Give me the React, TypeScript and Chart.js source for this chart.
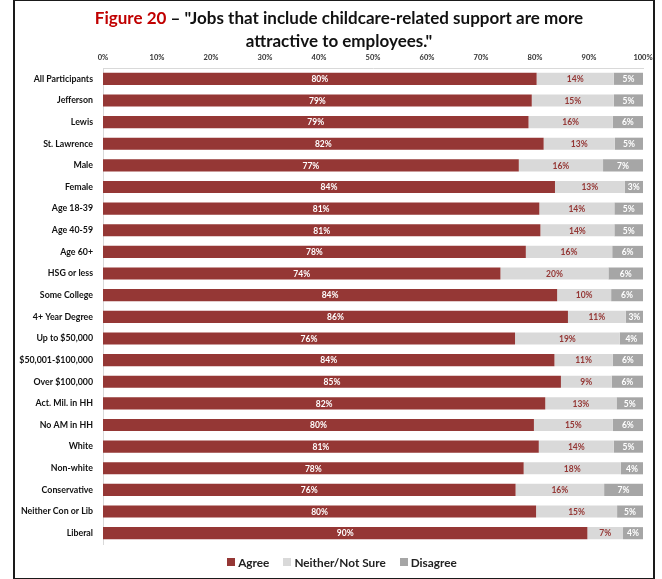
import React, { useEffect, useRef } from "react";
import { Chart, registerables } from "chart.js";

Chart.register(...registerables);

const categories = [
  "All Participants", "Jefferson", "Lewis", "St. Lawrence", "Male", "Female",
  "Age 18-39", "Age 40-59", "Age 60+", "HSG or less", "Some College",
  "4+ Year Degree", "Up to $50,000", "$50,001-$100,000", "Over $100,000",
  "Act. Mil. in HH", "No AM in HH", "White", "Non-white", "Conservative",
  "Neither Con or Lib", "Liberal",
];

const agree = [80.3, 79.4, 78.8, 81.6, 77.0, 83.7, 80.8, 81.0, 78.3, 73.6, 84.1, 86.1, 76.3, 83.6, 84.8, 81.9, 79.8, 80.7, 77.9, 76.4, 80.2, 89.7];
const neither = [14.3, 15.2, 15.6, 13.2, 15.6, 12.9, 13.9, 13.7, 16.0, 20.0, 10.0, 10.7, 19.4, 10.8, 9.4, 13.2, 14.6, 13.9, 18.0, 16.4, 15.0, 6.6];
const disagree = [5.4, 5.4, 5.6, 5.2, 7.4, 3.4, 5.3, 5.3, 5.7, 6.4, 5.9, 3.2, 4.3, 5.6, 5.8, 4.9, 5.6, 5.4, 4.1, 7.2, 4.8, 3.7];

const seriesNames = ["Agree", "Neither/Not Sure", "Disagree"];
const xTicks = [0, 10, 20, 30, 40, 50, 60, 70, 80, 90, 100];

const COLORS = ["#953735", "#d9d9d9", "#a6a6a6"];
const LABEL_COLORS = ["#ffffff", "#953735", "#ffffff"];
const FONT = "Lato, 'Open Sans', sans-serif";

const valueLabels = {
  id: "valueLabels",
  afterDatasetsDraw(chart: any) {
    const ctx = chart.ctx;
    ctx.save();
    ctx.font = `bold 8.5px ${FONT}`;
    ctx.textAlign = "center";
    ctx.textBaseline = "middle";
    chart.data.datasets.forEach((ds: any, di: number) => {
      const meta = chart.getDatasetMeta(di);
      meta.data.forEach((el: any, i: number) => {
        const v = ds.data[i];
        const cx = (el.x + el.base) / 2;
        ctx.fillStyle = LABEL_COLORS[di];
        ctx.fillText(Math.round(v) + "%", cx, el.y + 0.5);
      });
    });
    ctx.restore();
  },
};

export default function App() {
  const ref = useRef<HTMLCanvasElement>(null);
  useEffect(() => {
    if (!ref.current) return;
    const chart = new Chart(ref.current, {
      type: "bar",
      data: {
        labels: categories,
        datasets: [agree, neither, disagree].map((d, i) => ({
          label: seriesNames[i],
          data: d,
          backgroundColor: COLORS[i],
          borderWidth: 0,
          barPercentage: 0.56,
          categoryPercentage: 1,
        })),
      },
      options: {
        indexAxis: "y",
        animation: false,
        responsive: false,
        maintainAspectRatio: false,
        layout: { padding: { left: 0, right: 19, top: 50, bottom: 35 } },
        plugins: { legend: { display: false }, tooltip: { enabled: false }, title: { display: false } },
        scales: {
          x: {
            position: "top",
            stacked: true,
            min: 0,
            max: 100,
            afterFit: (s: any) => { s.height = 18; },
            afterBuildTicks: (s: any) => { s.ticks = xTicks.map((v) => ({ value: v })); },
            ticks: {
              callback: (v: any) => v + "%",
              font: { family: FONT, size: 7.5, weight: "bold" },
              color: "#333",
              padding: 6,
              maxRotation: 0,
            },
            grid: { display: false, drawTicks: false },
            border: { display: true, color: "#d9d9d9", width: 1 },
          },
          y: {
            stacked: true,
            afterFit: (s: any) => { s.width = 103; },
            ticks: {
              font: { family: FONT, size: 8.8, weight: "bold" },
              color: "#111",
              padding: 10,
              autoSkip: false,
            },
            grid: { display: false, drawTicks: false },
            border: { display: true, color: "#d9d9d9", width: 1 },
          },
        },
      },
      plugins: [valueLabels],
    } as any);
    return () => chart.destroy();
  }, []);

  const legendItem = (name: string, color: string, last: boolean) => (
    <span key={name} style={{ display: "inline-flex", alignItems: "center", marginRight: last ? 0 : 14 }}>
      <span style={{ display: "inline-block", width: 8, height: 8, background: color, marginRight: 3 }} />
      {name}
    </span>
  );

  return (
    <div style={{ position: "fixed", left: 0, top: 0, width: 662, height: 579, background: "#fff", fontFamily: FONT }}>
      <div style={{ position: "absolute", left: 13, top: -1, width: 638, height: 577, border: "2px solid #1a1a1a" }} />
      <canvas ref={ref} width={662} height={579} style={{ position: "absolute", left: 0, top: 0, width: 662, height: 579 }} />
      <div style={{ position: "absolute", left: 14, width: 650, top: 6, textAlign: "center", fontWeight: "bold", fontSize: 17, lineHeight: "23px", color: "#111" }}>
        <span style={{ color: "#c00000" }}>Figure 20</span> – "Jobs that include childcare-related support are more
        <br />attractive to employees."
      </div>
      <div style={{ position: "absolute", left: 11, width: 662, top: 554, textAlign: "center", fontWeight: "bold", fontSize: 11.8, color: "#222" }}>
        {seriesNames.map((n, i) => legendItem(n, COLORS[i], i === seriesNames.length - 1))}
      </div>
    </div>
  );
}
